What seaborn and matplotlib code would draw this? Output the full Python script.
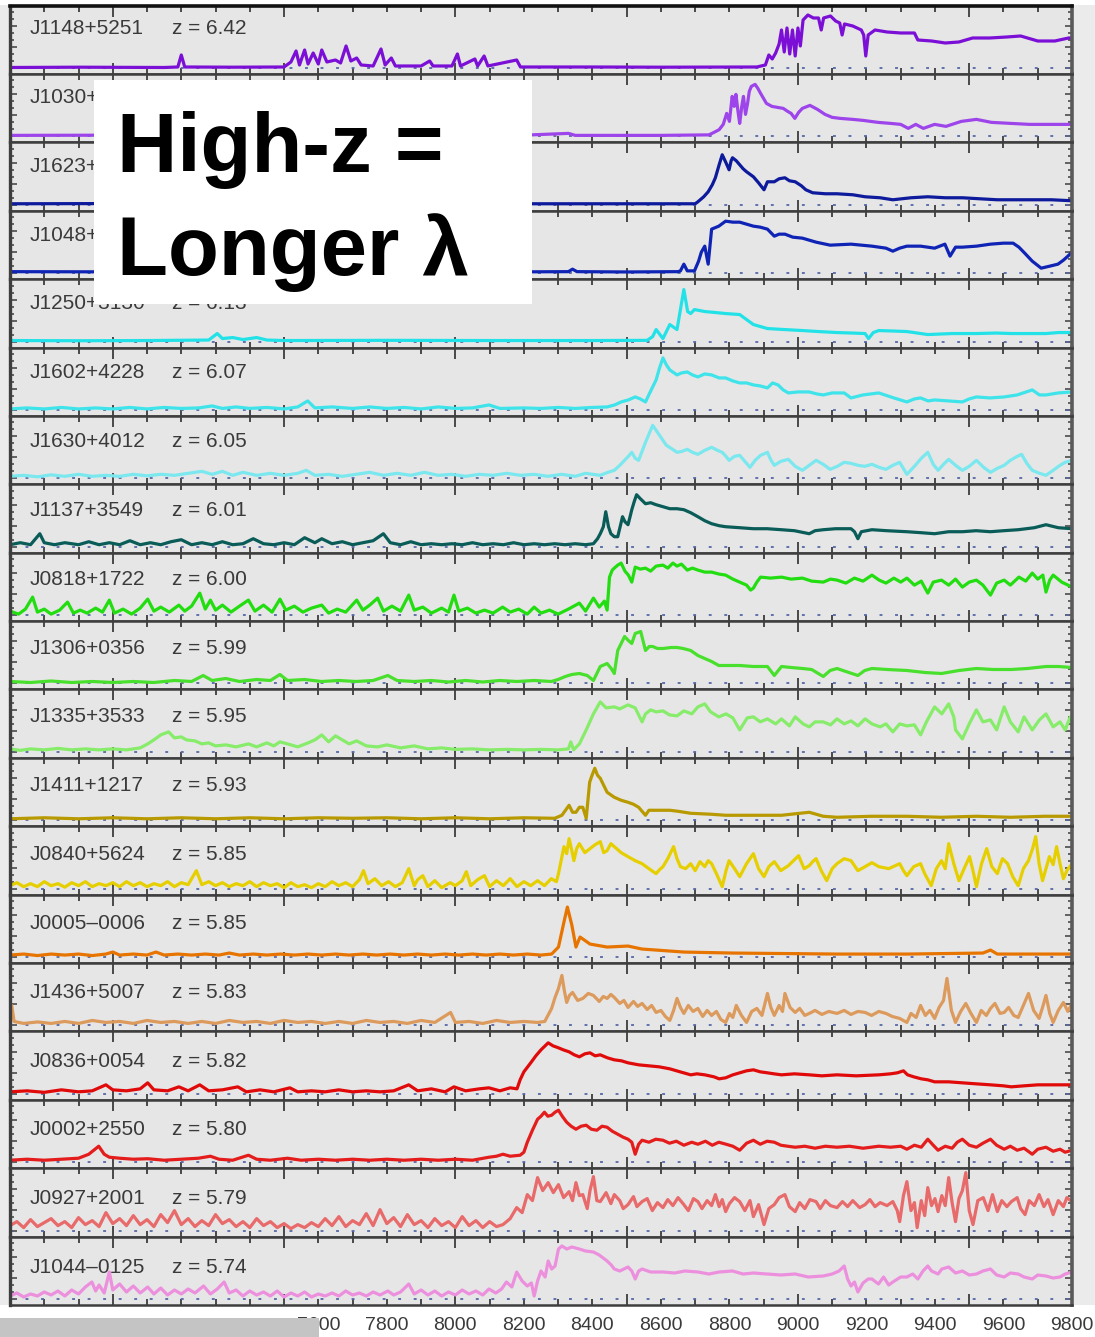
import matplotlib
matplotlib.use("Agg")
import matplotlib.pyplot as plt
from matplotlib.patches import Rectangle
from matplotlib.ticker import MultipleLocator
import pandas as pd
import seaborn as sns

# ---------------------------------------------------------------------------
# Quasar identifiers, redshifts and line colours (top panel first)
# ---------------------------------------------------------------------------
QUASARS = ["J1148+5251", "J1030+0524", "J1623+3112", "J1048+4637", "J1250+3130",
           "J1602+4228", "J1630+4012", "J1137+3549", "J0818+1722", "J1306+0356",
           "J1335+3533", "J1411+1217", "J0840+5624", "J0005\u20130006", "J1436+5007",
           "J0836+0054", "J0002+2550", "J0927+2001", "J1044\u20130125"]
REDSHIFTS = ["6.42", "6.28", "6.22", "6.20", "6.13", "6.07", "6.05", "6.01", "6.00",
             "5.99", "5.95", "5.93", "5.85", "5.85", "5.83", "5.82", "5.80", "5.79", "5.74"]
COLORS = ["#7b0fd6", "#9d45ea", "#0d1a9c", "#0f23b5", "#22e2e8", "#3fe3ea", "#7ae8ee",
          "#0a5c58", "#22dd10", "#48e02c", "#86ec6a", "#b89a00", "#e6cf00", "#e87400",
          "#dc9a5c", "#e00a0a", "#e41c1c", "#e86a6a", "#ec90de"]

# Bottom axis labels (Angstrom)
WAVE_LABELS = [7600, 7800, 8000, 8200, 8400, 8600, 8800, 9000, 9200, 9400, 9600, 9800]

# ---------------------------------------------------------------------------
# Spectra: (observed wavelength [A], relative flux) pairs
# ---------------------------------------------------------------------------
SPEC_J1148 = [(6700, 0.5), (6900, 0.8), (7150, 0.5), (7190, 1), (7200, 13), (7210, 1), (7350, 0.8),
              (7500, 1), (7520, 6), (7535, 17), (7545, 3), (7560, 18), (7570, 4), (7585, 15), (7600, 4),
              (7610, 18), (7625, 6), (7650, 8), (7665, 5), (7681, 22), (7695, 7), (7712, 10), (7725, 3),
              (7760, 2), (7783, 19), (7795, 3), (7813, 10), (7825, 2), (7900, 2), (7925, 7), (7935, 2),
              (7990, 2), (8006, 14), (8015, 2), (8057, 9), (8065, 2), (8084, 12), (8095, 2), (8179, 8),
              (8190, 1), (8400, 1), (8600, 0.8), (8880, 1), (8905, 3), (8915, 13), (8925, 9), (8935, 15),
              (8945, 24), (8952, 38), (8960, 16), (8968, 40), (8976, 14), (8984, 38), (8992, 12),
              (9000, 40), (9007, 22), (9015, 48), (9029, 53), (9045, 50), (9060, 50), (9068, 38),
              (9075, 50), (9095, 52), (9110, 47), (9122, 45), (9129, 33), (9136, 44), (9160, 42),
              (9185, 38), (9192, 33), (9198, 12), (9205, 33), (9225, 38), (9260, 36), (9300, 35),
              (9340, 35), (9350, 28), (9390, 27), (9430, 25), (9470, 26), (9510, 30), (9560, 30),
              (9610, 31), (9650, 32), (9700, 27), (9750, 27), (9790, 30), (9800, 30)]

SPEC_J1030 = [(6700, 1), (7000, 1.2), (7300, 1), (7600, 1.3), (7900, 1), (8200, 1.2), (8330, 3), (8350, 1),
              (8600, 1), (8740, 1.5), (8755, 4), (8770, 6.7), (8782, 12), (8792, 23), (8800, 15), (8808, 40),
              (8814, 30), (8819, 42), (8825, 25), (8830, 13), (8836, 30), (8841, 40), (8847, 22), (8853, 33),
              (8858, 45), (8864, 50), (8875, 52), (8883, 48), (8891, 43), (8908, 33), (8924, 30), (8940, 29),
              (8957, 28), (8970, 25), (8980, 23), (8991, 18), (9002, 24), (9013, 28), (9035, 31), (9057, 27),
              (9079, 22), (9100, 19), (9123, 18), (9160, 17), (9190, 16), (9234, 14), (9270, 13), (9300, 12),
              (9322, 8), (9344, 12), (9366, 8), (9399, 12), (9432, 10), (9477, 15), (9521, 17), (9565, 14),
              (9620, 13), (9676, 12), (9730, 12), (9786, 12), (9800, 12)]

SPEC_J1623 = [(6700, 1), (7000, 1.2), (7400, 0.8), (7800, 1), (8200, 1), (8500, 1), (8700, 1), (8708, 3),
              (8725, 8), (8738, 13), (8750, 20), (8759, 27), (8770, 40), (8779, 50), (8790, 42), (8799, 35),
              (8805, 44), (8809, 47), (8820, 44), (8830, 40), (8840, 36), (8850, 33), (8870, 28), (8885, 22),
              (8901, 15), (8911, 23), (8931, 23), (8945, 26), (8962, 27), (8975, 24), (8992, 23), (9010, 19),
              (9023, 15), (9043, 12), (9080, 11), (9114, 11), (9160, 10), (9196, 8), (9240, 7), (9277, 5),
              (9330, 7), (9379, 8), (9430, 7), (9480, 7), (9530, 6), (9582, 5), (9640, 5), (9684, 5),
              (9740, 5), (9800, 4)]

SPEC_J1048 = [(6700, 1.5), (7000, 1.3), (7400, 1.5), (7800, 1.2), (8200, 1.3), (8330, 1.5), (8342, 4),
              (8355, 1.5), (8500, 1.2), (8650, 1.5), (8657, 2.3), (8667, 9), (8677, 2.3), (8698, 2.3),
              (8710, 12), (8718, 21), (8728, 27), (8738, 9), (8748, 44), (8769, 47), (8789, 52), (8810, 51),
              (8830, 51), (8850, 49), (8870, 47), (8890, 46), (8911, 44), (8931, 37), (8945, 39), (8962, 39),
              (8985, 36), (9013, 35), (9053, 31), (9094, 28), (9155, 29), (9216, 27), (9257, 25), (9277, 22),
              (9297, 25), (9318, 27), (9358, 27), (9399, 25), (9429, 29), (9444, 17), (9460, 26), (9480, 26),
              (9521, 27), (9562, 29), (9600, 30), (9628, 30), (9645, 26), (9662, 20), (9684, 12), (9710, 5),
              (9735, 7), (9759, 9), (9775, 13), (9788, 17), (9800, 21)]

SPEC_J1250 = [(6700, 1), (6900, 0.8), (7100, 1), (7280, 1.5), (7305, 8), (7320, 3), (7350, 4), (7380, 2),
              (7420, 4), (7450, 1.5), (7500, 1), (7800, 1.2), (8100, 1), (8400, 1), (8560, 1.2), (8576, 5),
              (8586, 12), (8606, 3), (8626, 17), (8647, 12), (8657, 32), (8667, 52), (8678, 30), (8687, 28),
              (8698, 32), (8728, 30), (8760, 29), (8789, 28), (8830, 27), (8850, 22), (8870, 17), (8911, 13),
              (8960, 12), (9013, 11), (9060, 10), (9114, 9), (9160, 8.5), (9196, 8), (9206, 3), (9220, 9),
              (9236, 11), (9280, 10.5), (9318, 10), (9379, 7), (9450, 8), (9521, 8), (9580, 8.5), (9623, 8),
              (9680, 8), (9724, 8), (9760, 9), (9800, 9)]

SPEC_J1602 = [(6700, 1), (6750, 2), (6800, 1), (6850, 2.5), (6900, 1), (6950, 2), (7000, 1), (7050, 2.5),
              (7100, 1), (7150, 2.5), (7200, 1.5), (7250, 2), (7290, 4), (7320, 1.5), (7360, 3), (7400, 1.5),
              (7450, 2.5), (7500, 1), (7540, 3), (7569, 9), (7590, 2), (7640, 3), (7700, 1.5), (7750, 3),
              (7800, 1.5), (7850, 2.5), (7900, 1), (7950, 3), (8000, 1.5), (8050, 2), (8098, 5), (8130, 1.5),
              (8200, 2), (8250, 1.5), (8300, 2.5), (8350, 1.5), (8400, 2.5), (8443, 3), (8465, 5), (8484, 8),
              (8505, 10), (8525, 13), (8540, 11), (8555, 8), (8566, 16), (8576, 23), (8586, 30), (8596, 42),
              (8606, 52), (8616, 45), (8626, 40), (8647, 35), (8660, 37), (8677, 38), (8692, 35), (8708, 33),
              (8728, 36), (8748, 35), (8770, 32), (8789, 32), (8810, 29), (8830, 27), (8850, 27), (8870, 25),
              (8890, 24), (8911, 22), (8926, 27), (8942, 25), (8957, 20), (8972, 17), (9000, 18), (9033, 18),
              (9055, 16), (9074, 15), (9100, 17), (9135, 17), (9155, 12), (9190, 15), (9236, 17), (9280, 12),
              (9318, 8), (9340, 11), (9358, 12), (9380, 9), (9399, 10), (9440, 9), (9480, 8), (9500, 11),
              (9521, 13), (9560, 12), (9602, 13), (9640, 15), (9684, 20), (9705, 15), (9724, 15), (9760, 17),
              (9800, 18)]

SPEC_J1630 = [(6700, 2), (6740, 3), (6780, 1.5), (6820, 3.5), (6860, 2), (6900, 4), (6940, 2), (6980, 3),
              (7020, 2), (7060, 4), (7100, 2.5), (7140, 4), (7180, 3), (7220, 5), (7260, 7), (7290, 4),
              (7320, 7), (7350, 3), (7380, 6), (7420, 3), (7460, 5), (7500, 3), (7540, 5), (7565, 8),
              (7590, 3), (7630, 4), (7670, 2), (7710, 4), (7750, 6), (7790, 3), (7830, 5), (7870, 3),
              (7910, 6), (7950, 3), (7990, 4), (8030, 2), (8070, 4), (8110, 3), (8150, 5), (8190, 3),
              (8230, 4), (8270, 2), (8310, 4), (8350, 2), (8380, 5), (8423, 3), (8445, 6), (8464, 8),
              (8480, 13), (8494, 18), (8505, 22), (8515, 26), (8525, 20), (8535, 18), (8545, 27), (8555, 36),
              (8566, 45), (8576, 53), (8586, 48), (8596, 43), (8606, 38), (8616, 33), (8630, 30), (8647, 26),
              (8662, 27), (8677, 29), (8692, 26), (8708, 24), (8728, 28), (8748, 31), (8765, 28), (8779, 26),
              (8790, 22), (8799, 18), (8815, 22), (8830, 23), (8845, 17), (8860, 11), (8875, 18), (8891, 23),
              (8911, 26), (8920, 19), (8931, 13), (8950, 17), (8972, 19), (8992, 12), (9013, 8), (9033, 13),
              (9053, 18), (9074, 14), (9094, 9), (9115, 12), (9135, 16), (9155, 15), (9175, 13), (9195, 12),
              (9216, 14), (9237, 11), (9257, 9), (9277, 13), (9297, 16), (9318, 4), (9340, 12), (9360, 20),
              (9379, 26), (9395, 14), (9409, 8), (9425, 14), (9440, 19), (9460, 13), (9480, 8), (9500, 12),
              (9521, 18), (9542, 11), (9562, 6), (9582, 10), (9602, 13), (9620, 18), (9640, 22), (9653, 24),
              (9668, 15), (9684, 8), (9705, 5), (9724, 3), (9745, 8), (9765, 13), (9780, 16), (9800, 18)]

SPEC_J1137 = [(6700, 2), (6730, 4), (6760, 2), (6787, 13), (6800, 4), (6830, 2), (6860, 4), (6900, 2),
              (6930, 5), (6960, 2), (6990, 4), (7020, 2), (7050, 6), (7080, 2), (7110, 4), (7140, 2),
              (7170, 5), (7200, 7), (7230, 2), (7260, 4), (7290, 2), (7320, 5), (7350, 2), (7380, 3),
              (7410, 8), (7440, 3), (7470, 2), (7500, 4), (7530, 2), (7560, 9), (7590, 4), (7610, 8),
              (7640, 3), (7670, 5), (7700, 2), (7730, 4), (7760, 6), (7790, 13), (7810, 4), (7840, 2),
              (7870, 5), (7900, 2), (7930, 3), (7960, 2), (7990, 3), (8020, 2), (8050, 4), (8080, 2),
              (8110, 3), (8140, 2), (8170, 4), (8200, 2), (8230, 3), (8260, 2), (8290, 3), (8320, 2),
              (8350, 3), (8380, 2), (8403, 3), (8415, 8), (8423, 13), (8432, 20), (8439, 35), (8447, 20),
              (8454, 13), (8464, 10), (8474, 10), (8481, 20), (8488, 30), (8495, 25), (8504, 22), (8510, 30),
              (8515, 37), (8522, 45), (8529, 52), (8540, 48), (8555, 43), (8570, 44), (8586, 42), (8606, 40),
              (8626, 38), (8647, 38), (8667, 37), (8687, 34), (8708, 30), (8728, 26), (8748, 23), (8770, 21),
              (8789, 20), (8830, 19), (8870, 18), (8910, 18), (8952, 17), (8990, 16), (9033, 13), (9050, 16),
              (9074, 17), (9110, 18), (9155, 18), (9165, 15), (9175, 8), (9185, 15), (9216, 17), (9260, 16),
              (9318, 15), (9360, 14), (9399, 13), (9440, 15), (9480, 15), (9520, 16), (9562, 15), (9600, 16),
              (9643, 17), (9690, 19), (9724, 22), (9760, 19), (9800, 18)]

SPEC_J0818 = [(6700, 4), (6725, 1), (6745, 6), (6766, 18), (6780, 3), (6800, 6), (6820, 1), (6845, 5),
              (6868, 13), (6885, 2), (6905, 5), (6925, 2), (6950, 7), (6970, 3), (6990, 15), (7005, 2),
              (7030, 6), (7055, 1), (7080, 7), (7102, 16), (7120, 4), (7140, 8), (7165, 3), (7193, 10),
              (7210, 4), (7230, 9), (7254, 22), (7270, 6), (7285, 15), (7300, 5), (7320, 10), (7345, 3),
              (7370, 9), (7396, 15), (7415, 4), (7440, 10), (7465, 3), (7488, 16), (7505, 5), (7530, 9),
              (7555, 3), (7580, 7), (7610, 10), (7630, 2), (7655, 6), (7680, 3), (7712, 15), (7730, 5),
              (7750, 10), (7773, 17), (7790, 4), (7815, 9), (7840, 4), (7864, 20), (7880, 5), (7905, 8),
              (7930, 2), (7960, 7), (7980, 3), (7996, 20), (8010, 4), (8035, 7), (8060, 2), (8085, 5),
              (8110, 2), (8138, 8), (8160, 3), (8185, 6), (8210, 1), (8230, 8), (8250, 2), (8275, 5),
              (8300, 1), (8330, 6), (8362, 12), (8380, 4), (8403, 17), (8420, 8), (8435, 14), (8443, 5),
              (8450, 38), (8458, 45), (8464, 47), (8474, 50), (8484, 52), (8495, 44), (8505, 40), (8515, 33),
              (8525, 48), (8540, 46), (8555, 47), (8570, 44), (8586, 49), (8606, 50), (8620, 47), (8635, 52),
              (8647, 49), (8660, 51), (8677, 45), (8692, 47), (8708, 45), (8728, 43), (8748, 43), (8770, 41),
              (8789, 40), (8810, 36), (8830, 33), (8850, 30), (8862, 25), (8870, 27), (8880, 33), (8891, 38),
              (8920, 37), (8952, 38), (8980, 36), (9013, 37), (9040, 34), (9074, 33), (9095, 36), (9114, 35),
              (9140, 32), (9165, 37), (9190, 34), (9216, 40), (9237, 35), (9257, 32), (9280, 37), (9300, 33),
              (9318, 37), (9340, 30), (9360, 34), (9379, 22), (9395, 33), (9419, 35), (9440, 30), (9460, 36),
              (9480, 28), (9500, 33), (9521, 35), (9540, 30), (9562, 20), (9580, 32), (9602, 35), (9620, 30),
              (9645, 38), (9665, 34), (9684, 42), (9700, 36), (9715, 40), (9724, 23), (9735, 35), (9745, 40),
              (9770, 33), (9800, 28)]

SPEC_J1306 = [(6700, 2), (6760, 1), (6820, 2.5), (6880, 1), (6940, 2), (7000, 1), (7060, 2), (7120, 1),
              (7180, 3), (7230, 2), (7264, 8), (7290, 3), (7330, 5), (7370, 2), (7420, 4), (7460, 3),
              (7488, 9), (7510, 3), (7560, 4), (7610, 2), (7660, 3), (7710, 2), (7760, 3), (7803, 8),
              (7830, 3), (7880, 2), (7930, 3), (7980, 1.5), (8030, 3), (8080, 1.5), (8130, 3), (8180, 2),
              (8230, 3), (8280, 2), (8300, 4), (8321, 7), (8340, 9), (8362, 10), (8385, 8), (8403, 3),
              (8423, 17), (8443, 20), (8455, 15), (8464, 10), (8474, 33), (8484, 40), (8494, 47), (8505, 43),
              (8515, 40), (8525, 50), (8541, 52), (8555, 33), (8566, 37), (8576, 37), (8590, 35), (8606, 35),
              (8630, 36), (8647, 36), (8665, 35), (8687, 33), (8708, 28), (8728, 25), (8748, 22), (8769, 18),
              (8800, 18), (8830, 18), (8870, 17), (8911, 17), (8931, 8), (8952, 17), (8980, 16), (9013, 15),
              (9040, 14), (9074, 7), (9094, 13), (9114, 15), (9140, 12), (9175, 8), (9195, 13), (9216, 15),
              (9260, 14), (9318, 13), (9370, 11), (9419, 10), (9470, 13), (9521, 15), (9570, 14), (9623, 14),
              (9670, 15), (9724, 17), (9760, 17), (9800, 16)]

SPEC_J1335 = [(6700, 3), (6730, 1.5), (6760, 3), (6800, 2), (6840, 3.5), (6880, 2), (6920, 3), (6960, 2),
              (7000, 3), (7040, 2), (7080, 4), (7102, 8), (7120, 12), (7140, 17), (7163, 20), (7180, 14),
              (7200, 15), (7215, 12), (7240, 11), (7260, 8), (7280, 9), (7300, 6), (7330, 7), (7360, 5),
              (7396, 8), (7420, 5), (7450, 9), (7470, 6), (7488, 10), (7510, 8), (7540, 5), (7570, 9),
              (7590, 12), (7610, 17), (7630, 10), (7650, 16), (7670, 12), (7690, 8), (7712, 11), (7740, 6),
              (7773, 5), (7800, 7), (7840, 4), (7880, 6), (7920, 3), (7960, 4), (8000, 2.5), (8050, 3),
              (8100, 2), (8150, 2.5), (8200, 2), (8250, 2.5), (8300, 2), (8330, 3), (8337, 10), (8345, 2),
              (8362, 8), (8382, 22), (8403, 38), (8423, 50), (8440, 44), (8464, 45), (8480, 43), (8504, 47),
              (8525, 44), (8545, 30), (8555, 38), (8570, 42), (8586, 40), (8606, 41), (8625, 37), (8647, 36),
              (8667, 41), (8690, 38), (8708, 45), (8728, 48), (8745, 40), (8769, 35), (8790, 38), (8810, 34),
              (8830, 22), (8852, 34), (8870, 35), (8890, 30), (8911, 33), (8935, 28), (8952, 33), (8975, 26),
              (8992, 35), (9015, 28), (9033, 25), (9050, 30), (9074, 30), (9095, 27), (9114, 33), (9135, 28),
              (9155, 31), (9175, 26), (9196, 33), (9216, 28), (9240, 25), (9257, 28), (9277, 20), (9297, 28),
              (9318, 26), (9340, 27), (9358, 17), (9375, 30), (9399, 45), (9420, 38), (9440, 48), (9455, 35),
              (9460, 22), (9480, 13), (9500, 28), (9521, 42), (9540, 30), (9562, 32), (9580, 22), (9602, 45),
              (9620, 30), (9643, 20), (9660, 35), (9684, 22), (9705, 32), (9724, 38), (9745, 25), (9765, 30),
              (9780, 22), (9795, 35), (9800, 30)]

SPEC_J1411 = [(6700, 1.5), (6800, 2.5), (6900, 1.5), (7000, 2.5), (7100, 1.5), (7200, 2.5), (7300, 1.5),
              (7400, 2.5), (7500, 1.5), (7600, 2.5), (7700, 2), (7800, 2.5), (7900, 1.5), (8000, 2.5),
              (8100, 1.5), (8200, 2.5), (8290, 2), (8311, 5), (8332, 15), (8342, 8), (8352, 8), (8362, 13),
              (8372, 13), (8382, 2), (8392, 38), (8399, 45), (8407, 52), (8415, 45), (8423, 42), (8443, 28),
              (8464, 23), (8484, 20), (8504, 18), (8520, 16), (8535, 13), (8555, 5), (8565, 10), (8576, 10),
              (8600, 10), (8626, 10), (8650, 9), (8687, 7), (8748, 6), (8789, 5), (8870, 5), (8952, 5),
              (9033, 8), (9074, 4), (9114, 3), (9216, 4), (9318, 4), (9419, 3), (9521, 4), (9620, 3),
              (9720, 4), (9800, 4)]

SPEC_J0840 = [(6700, 3), (6720, 6), (6740, 2), (6760, 5), (6780, 2), (6800, 7), (6820, 3), (6840, 5),
              (6860, 1.5), (6880, 6), (6900, 3), (6920, 7), (6940, 2), (6960, 5), (6980, 3), (7000, 6),
              (7020, 2), (7040, 7), (7060, 3), (7080, 6), (7100, 2), (7120, 5), (7140, 3), (7160, 7),
              (7180, 2), (7200, 6), (7220, 4), (7244, 18), (7260, 4), (7280, 7), (7300, 3), (7320, 6),
              (7340, 2), (7360, 5), (7380, 3), (7400, 7), (7420, 2), (7440, 6), (7460, 3), (7480, 5),
              (7500, 1), (7520, 6), (7540, 2), (7560, 4), (7580, 1), (7600, 5), (7620, 2), (7640, 7),
              (7660, 3), (7680, 6), (7700, 2), (7720, 9), (7732, 18), (7745, 5), (7765, 10), (7785, 3),
              (7805, 7), (7825, 2), (7845, 6), (7864, 20), (7880, 3), (7890, 9), (7905, 13), (7920, 2),
              (7940, 8), (7960, 1), (7985, 6), (8000, 3), (8020, 8), (8032, 17), (8045, 3), (8065, 9),
              (8085, 13), (8100, 2), (8120, 8), (8140, 3), (8160, 10), (8180, 2), (8200, 7), (8220, 3),
              (8240, 8), (8260, 3), (8280, 10), (8295, 7), (8301, 15), (8317, 42), (8325, 35), (8332, 50),
              (8340, 38), (8346, 28), (8354, 40), (8362, 45), (8378, 36), (8393, 40), (8408, 44), (8423, 47),
              (8433, 36), (8443, 38), (8454, 45), (8464, 42), (8484, 36), (8504, 32), (8525, 28), (8545, 25),
              (8565, 20), (8586, 15), (8596, 19), (8606, 22), (8620, 30), (8637, 42), (8647, 30), (8657, 22),
              (8672, 20), (8687, 25), (8700, 18), (8714, 27), (8728, 22), (8738, 28), (8748, 25), (8762, 15),
              (8779, 2), (8790, 18), (8799, 28), (8815, 20), (8830, 12), (8850, 25), (8870, 35), (8885, 20),
              (8901, 12), (8915, 22), (8931, 27), (8950, 18), (8972, 23), (8987, 28), (9002, 33), (9018, 20),
              (9033, 23), (9043, 27), (9053, 30), (9068, 18), (9084, 8), (9100, 20), (9114, 25), (9135, 30),
              (9155, 28), (9175, 18), (9196, 22), (9216, 26), (9236, 22), (9265, 20), (9297, 25), (9308, 18),
              (9318, 13), (9338, 22), (9358, 25), (9370, 15), (9389, 3), (9404, 20), (9419, 28), (9430, 20),
              (9440, 45), (9455, 25), (9470, 8), (9485, 20), (9501, 32), (9511, 18), (9521, 2), (9536, 25),
              (9551, 40), (9566, 22), (9582, 15), (9597, 30), (9612, 25), (9627, 12), (9643, 3), (9658, 20),
              (9673, 28), (9685, 40), (9694, 52), (9704, 25), (9714, 8), (9724, 20), (9734, 32), (9745, 24),
              (9755, 42), (9765, 25), (9775, 10), (9785, 18), (9800, 25)]

SPEC_J0005 = [(6700, 2), (6740, 3), (6780, 1.5), (6820, 3), (6860, 2), (6900, 3), (6940, 1.5), (6980, 3),
              (7000, 5), (7020, 2), (7060, 3), (7100, 2), (7126, 5), (7150, 2), (7190, 3), (7230, 2),
              (7270, 3), (7310, 2), (7340, 4), (7370, 2), (7410, 3), (7450, 2), (7490, 3), (7530, 2),
              (7570, 3), (7610, 2), (7650, 3), (7690, 2), (7730, 3), (7770, 2), (7810, 3), (7850, 2),
              (7890, 3), (7930, 2), (7970, 3), (8010, 2), (8050, 3), (8090, 2), (8130, 3), (8170, 2),
              (8210, 3), (8250, 2), (8281, 3), (8301, 10), (8317, 35), (8327, 50), (8340, 32), (8352, 10),
              (8364, 20), (8393, 13), (8443, 10), (8504, 11), (8545, 8), (8586, 7), (8667, 5), (8810, 4),
              (9114, 3), (9318, 3), (9540, 4), (9562, 7), (9582, 3), (9800, 3)]

SPEC_J1436 = [(6700, 3), (6705, 20), (6712, 4), (6740, 2), (6780, 3.5), (6820, 2), (6860, 4), (6900, 2),
              (6940, 5), (6980, 3), (7020, 4), (7060, 2), (7100, 5), (7140, 3), (7180, 4), (7220, 2),
              (7260, 4), (7300, 2), (7340, 5), (7380, 3), (7420, 4), (7460, 2), (7500, 5), (7540, 3),
              (7580, 4), (7620, 2), (7660, 4), (7700, 2), (7740, 5), (7780, 3), (7820, 4), (7860, 2),
              (7900, 5), (7940, 3), (7986, 13), (8000, 3), (8040, 4), (8080, 2), (8120, 5), (8160, 3),
              (8200, 4), (8240, 3), (8261, 4), (8281, 17), (8291, 28), (8301, 37), (8311, 50), (8318, 35),
              (8325, 23), (8333, 30), (8342, 33), (8357, 25), (8372, 27), (8388, 32), (8403, 30), (8420, 24),
              (8432, 29), (8443, 27), (8454, 31), (8464, 28), (8480, 22), (8492, 25), (8504, 18), (8520, 24),
              (8532, 19), (8545, 22), (8560, 16), (8573, 20), (8586, 13), (8600, 15), (8613, 9), (8626, 5),
              (8637, 15), (8647, 27), (8657, 18), (8667, 12), (8680, 20), (8694, 14), (8708, 17), (8722, 9),
              (8735, 15), (8748, 10), (8762, 14), (8775, 6), (8789, 3), (8800, 12), (8810, 8), (8820, 20),
              (8835, 10), (8850, 3), (8865, 14), (8880, 17), (8895, 10), (8911, 32), (8921, 18), (8931, 10),
              (8945, 20), (8955, 14), (8962, 32), (8977, 18), (8992, 13), (9005, 17), (9020, 10), (9033, 12),
              (9050, 15), (9070, 11), (9090, 14), (9114, 12), (9135, 15), (9155, 11), (9175, 14), (9196, 13),
              (9215, 10), (9236, 14), (9257, 12), (9275, 9), (9297, 7), (9318, 3), (9330, 12), (9345, 8),
              (9358, 20), (9372, 10), (9385, 15), (9399, 7), (9412, 18), (9425, 25), (9435, 47), (9448, 15),
              (9460, 3), (9475, 14), (9490, 22), (9505, 12), (9521, 3), (9535, 15), (9550, 10), (9562, 17),
              (9575, 22), (9590, 12), (9602, 13), (9615, 18), (9630, 10), (9643, 8), (9658, 20), (9673, 32),
              (9688, 15), (9704, 7), (9714, 18), (9724, 30), (9735, 12), (9745, 3), (9760, 15), (9775, 23),
              (9788, 14), (9800, 22)]

SPEC_J0836 = [(6700, 2), (6750, 3), (6800, 1.5), (6850, 4), (6900, 2), (6940, 3), (6980, 9), (7000, 4),
              (7040, 3), (7080, 5), (7102, 11), (7120, 4), (7160, 3), (7193, 7), (7220, 3), (7254, 9),
              (7280, 3), (7320, 4), (7365, 7), (7390, 2), (7430, 4), (7470, 2), (7517, 6), (7540, 2),
              (7580, 3), (7620, 2), (7660, 4), (7700, 2), (7740, 3), (7780, 2), (7820, 3), (7864, 9),
              (7890, 3), (7930, 5), (7970, 2), (7996, 7), (8030, 3), (8070, 5), (8098, 6), (8130, 3),
              (8160, 6), (8180, 5), (8189, 14), (8200, 22), (8220, 31), (8235, 38), (8250, 44), (8262, 48),
              (8271, 51), (8285, 48), (8301, 46), (8315, 44), (8332, 42), (8347, 39), (8362, 37), (8378, 40),
              (8393, 41), (8408, 38), (8423, 39), (8444, 36), (8464, 34), (8485, 33), (8504, 31), (8535, 29),
              (8565, 28), (8595, 27), (8626, 25), (8656, 22), (8687, 19), (8705, 20), (8728, 19), (8755, 17),
              (8770, 15), (8789, 16), (8810, 19), (8830, 21), (8850, 23), (8870, 24), (8890, 22), (8911, 21),
              (8930, 20), (8952, 19), (8990, 20), (9033, 19), (9070, 18), (9114, 19), (9170, 18), (9236, 19),
              (9270, 20), (9290, 21), (9308, 23), (9320, 19), (9338, 17), (9360, 15), (9379, 14), (9399, 12),
              (9440, 12), (9480, 11), (9520, 10), (9562, 9), (9600, 8), (9623, 7), (9660, 8), (9700, 9),
              (9760, 9), (9800, 9)]

SPEC_J0002 = [(6700, 2), (6750, 3), (6800, 2), (6850, 3), (6900, 4), (6930, 8), (6959, 16), (6975, 8),
              (6990, 5), (7020, 4), (7060, 3), (7102, 3.5), (7150, 2), (7200, 3), (7250, 4), (7285, 6),
              (7310, 3), (7350, 2), (7396, 7), (7420, 3), (7460, 2), (7510, 4), (7550, 2), (7600, 3),
              (7650, 2), (7700, 3), (7750, 2), (7800, 3), (7850, 2), (7900, 3), (7950, 2), (8000, 3),
              (8050, 2), (8098, 5), (8120, 6), (8139, 8), (8160, 6), (8189, 7), (8200, 10), (8210, 20),
              (8225, 32), (8240, 43), (8250, 46), (8260, 50), (8270, 46), (8281, 47), (8291, 50), (8301, 52),
              (8312, 46), (8325, 40), (8338, 36), (8352, 33), (8367, 36), (8382, 37), (8397, 33), (8413, 32),
              (8428, 36), (8443, 35), (8458, 31), (8474, 28), (8490, 25), (8504, 23), (8515, 20), (8525, 8),
              (8535, 18), (8545, 22), (8565, 20), (8585, 23), (8606, 22), (8625, 19), (8645, 21), (8667, 17),
              (8690, 20), (8708, 18), (8730, 21), (8750, 17), (8769, 20), (8790, 18), (8810, 16), (8830, 12),
              (8850, 19), (8870, 22), (8890, 18), (8910, 21), (8931, 20), (8950, 17), (8970, 16), (8992, 15),
              (9020, 16), (9050, 14), (9080, 16), (9114, 15), (9150, 16), (9190, 14), (9236, 16), (9270, 15),
              (9300, 16), (9318, 13), (9340, 17), (9360, 15), (9379, 23), (9395, 17), (9409, 12), (9430, 16),
              (9450, 14), (9465, 20), (9480, 23), (9500, 17), (9521, 15), (9540, 19), (9562, 23), (9580, 17),
              (9602, 13), (9620, 16), (9640, 12), (9660, 14), (9684, 8), (9700, 13), (9724, 15), (9745, 11),
              (9765, 13), (9780, 10), (9800, 12)]

SPEC_J0927 = [(6700, 5), (6720, 9), (6740, 3), (6760, 11), (6780, 4), (6800, 8), (6820, 12), (6840, 5),
              (6860, 9), (6880, 3), (6900, 13), (6920, 6), (6940, 10), (6960, 4), (6980, 18), (7000, 7),
              (7020, 12), (7040, 5), (7060, 15), (7080, 6), (7100, 11), (7120, 4), (7140, 16), (7160, 8),
              (7180, 20), (7200, 6), (7220, 12), (7240, 4), (7260, 10), (7280, 5), (7300, 16), (7320, 7),
              (7340, 11), (7360, 4), (7380, 9), (7400, 3), (7420, 12), (7440, 5), (7460, 9), (7480, 3),
              (7500, 7), (7520, 2), (7540, 6), (7560, 3), (7580, 8), (7600, 4), (7620, 12), (7640, 5),
              (7660, 14), (7680, 4), (7700, 10), (7720, 6), (7740, 17), (7760, 5), (7780, 21), (7800, 7),
              (7820, 13), (7840, 4), (7860, 16), (7880, 6), (7900, 10), (7920, 3), (7940, 12), (7960, 5),
              (7980, 9), (8000, 3), (8020, 14), (8040, 5), (8060, 10), (8080, 3), (8100, 9), (8120, 4),
              (8139, 6), (8160, 12), (8179, 23), (8195, 18), (8210, 36), (8225, 30), (8240, 53), (8255, 40),
              (8271, 48), (8286, 38), (8301, 46), (8316, 33), (8332, 39), (8342, 30), (8352, 48), (8362, 35),
              (8372, 36), (8385, 22), (8393, 40), (8403, 54), (8413, 30), (8423, 29), (8440, 38), (8454, 27),
              (8464, 36), (8480, 30), (8490, 22), (8504, 26), (8520, 34), (8530, 24), (8545, 29), (8560, 32),
              (8575, 20), (8590, 28), (8606, 23), (8620, 31), (8635, 25), (8650, 33), (8667, 26), (8680, 20),
              (8695, 32), (8708, 29), (8720, 22), (8735, 30), (8748, 25), (8759, 36), (8770, 24), (8779, 31),
              (8789, 19), (8800, 27), (8815, 33), (8830, 29), (8845, 20), (8860, 30), (8870, 14), (8885, 26),
              (8901, 6), (8915, 22), (8931, 26), (8945, 33), (8962, 36), (8975, 24), (8992, 19), (9005, 28),
              (9020, 22), (9035, 31), (9053, 29), (9065, 22), (9080, 30), (9095, 25), (9114, 23), (9130, 29),
              (9145, 24), (9160, 30), (9180, 23), (9196, 26), (9210, 31), (9225, 24), (9240, 28), (9260, 25),
              (9277, 29), (9290, 20), (9297, 9), (9308, 35), (9318, 49), (9330, 20), (9340, 28), (9348, 3),
              (9360, 30), (9370, 15), (9379, 43), (9390, 25), (9400, 32), (9409, 19), (9420, 35), (9430, 25),
              (9440, 53), (9450, 28), (9460, 9), (9470, 32), (9480, 40), (9490, 58), (9500, 20), (9511, 6),
              (9525, 30), (9541, 33), (9555, 20), (9568, 36), (9582, 19), (9595, 30), (9610, 24), (9623, 29),
              (9640, 33), (9650, 22), (9663, 16), (9675, 30), (9690, 25), (9704, 36), (9718, 24), (9730, 31),
              (9745, 16), (9760, 30), (9775, 24), (9785, 33), (9800, 29)]

SPEC_J1044 = [(6700, 3), (6720, 6), (6740, 2), (6760, 5), (6780, 3), (6800, 7), (6820, 4), (6840, 8),
              (6860, 3), (6880, 9), (6900, 5), (6920, 12), (6939, 17), (6950, 8), (6960, 14), (6975, 6),
              (6990, 27), (7000, 9), (7020, 15), (7040, 7), (7060, 13), (7080, 6), (7102, 12), (7120, 5),
              (7140, 11), (7160, 4), (7180, 9), (7200, 5), (7220, 10), (7240, 6), (7265, 13), (7285, 5),
              (7305, 10), (7325, 17), (7340, 6), (7360, 9), (7380, 3), (7400, 8), (7420, 4), (7440, 7),
              (7460, 3), (7480, 8), (7500, 2), (7520, 6), (7540, 3), (7560, 7), (7580, 2), (7600, 5),
              (7620, 3), (7640, 6), (7660, 3), (7680, 8), (7700, 4), (7720, 6), (7740, 3), (7760, 7),
              (7780, 4), (7803, 8), (7820, 4), (7840, 7), (7864, 15), (7880, 5), (7900, 9), (7920, 4),
              (7940, 8), (7960, 3), (7980, 7), (8000, 4), (8020, 9), (8040, 5), (8060, 8), (8080, 4),
              (8098, 10), (8118, 6), (8135, 10), (8149, 17), (8165, 12), (8179, 27), (8195, 18), (8210, 13),
              (8222, 16), (8230, 3), (8240, 18), (8250, 28), (8262, 22), (8271, 38), (8281, 30), (8291, 33),
              (8301, 50), (8311, 53), (8325, 50), (8340, 52), (8362, 50), (8380, 48), (8403, 47), (8420, 44),
              (8443, 38), (8455, 34), (8464, 30), (8480, 28), (8504, 32), (8515, 28), (8525, 20), (8535, 28),
              (8545, 30), (8570, 27), (8606, 27), (8640, 26), (8670, 28), (8708, 27), (8740, 25), (8770, 27),
              (8809, 28), (8840, 25), (8870, 26), (8911, 25), (8950, 24), (8992, 25), (9030, 22), (9074, 23),
              (9100, 25), (9120, 28), (9135, 33), (9145, 20), (9155, 13), (9165, 17), (9175, 7), (9190, 16),
              (9205, 20), (9216, 20), (9235, 15), (9250, 22), (9265, 14), (9277, 17), (9300, 22), (9318, 22),
              (9335, 25), (9350, 20), (9365, 28), (9379, 33), (9390, 28), (9409, 25), (9420, 30), (9440, 32),
              (9460, 26), (9480, 28), (9500, 24), (9521, 25), (9540, 28), (9562, 30), (9580, 24), (9602, 22),
              (9620, 26), (9643, 25), (9660, 22), (9684, 20), (9700, 24), (9724, 23), (9745, 21), (9765, 22),
              (9780, 25), (9800, 27)]

SPECTRA = [SPEC_J1148, SPEC_J1030, SPEC_J1623, SPEC_J1048, SPEC_J1250, SPEC_J1602, SPEC_J1630,
           SPEC_J1137, SPEC_J0818, SPEC_J1306, SPEC_J1335, SPEC_J1411, SPEC_J0840, SPEC_J0005,
           SPEC_J1436, SPEC_J0836, SPEC_J0002, SPEC_J0927, SPEC_J1044]

# ---------------------------------------------------------------------------
# Long-form table for seaborn
# ---------------------------------------------------------------------------
frames = []
for name, spec in zip(QUASARS, SPECTRA):
    wave, flux = zip(*spec)
    frames.append(pd.DataFrame({"quasar": name, "wave": wave, "flux": flux}))
spectra_df = pd.concat(frames, ignore_index=True)

sns.set_theme(style="white")
plt.rcParams["font.family"] = ["Liberation Sans", "DejaVu Sans"]

W, H = 1095, 1337
fig = plt.figure(figsize=(W / 100, H / 100), dpi=100, facecolor="#ebebeb")

# white strips above and below the stack of panels
fig.add_artist(Rectangle((0, 0), 1, (H - 1305) / H, transform=fig.transFigure,
                         facecolor="white", edgecolor="none", zorder=-2))
fig.add_artist(Rectangle((0, 1 - 5 / H), 1, 5 / H, transform=fig.transFigure,
                         facecolor="white", edgecolor="none", zorder=-2))

LEFT, RIGHT, TOP, BOTTOM = 10, 1072, 5.6, 1305
n_panels = len(QUASARS)
panel_h = (BOTTOM - TOP) / n_panels
ZERO_OFFSET = 6.0  # flux zero sits this far above the panel floor

# annotation box extent (pixels from the top-left corner)
BOX_L, BOX_R, BOX_T, BOX_B = 94, 532, 80, 304
outside_box = Rectangle((0, 0), BOX_L / W, 1, transform=fig.transFigure)

axes = []
for i, (name, z, color) in enumerate(zip(QUASARS, REDSHIFTS, COLORS)):
    top = TOP + i * panel_h
    ax = fig.add_axes([LEFT / W, 1 - (top + panel_h) / H, (RIGHT - LEFT) / W, panel_h / H])
    ax.set_facecolor("#e6e6e6")
    ax.axhline(0, color="#5567a6", lw=1.3, ls=(0, (1.6, 7)), zorder=1)
    sub = spectra_df[spectra_df["quasar"] == name]
    sns.lineplot(data=sub, x="wave", y="flux", ax=ax, color=color, lw=2.3,
                 estimator=None, sort=False, legend=False, zorder=2)
    ax.set_xlim(6700, 9800)
    ax.set_ylim(-ZERO_OFFSET, panel_h - ZERO_OFFSET)
    ax.set_xlabel("")
    ax.set_ylabel("")

    ax.xaxis.set_major_locator(MultipleLocator(500))
    ax.xaxis.set_minor_locator(MultipleLocator(100))
    ax.yaxis.set_major_locator(MultipleLocator(21))
    ax.yaxis.set_minor_locator(MultipleLocator(7))
    ax.tick_params(axis="x", which="both", direction="in", top=True, bottom=True,
                   labelbottom=False, labeltop=False, color="#3c3c3c", width=1.3)
    ax.tick_params(axis="x", which="major", length=8)
    ax.tick_params(axis="x", which="minor", length=4)
    ax.tick_params(axis="y", which="both", direction="in", left=True, right=True,
                   labelleft=False, labelright=False, color="#4a4a4a", width=1.2)
    ax.tick_params(axis="y", which="major", length=5)
    ax.tick_params(axis="y", which="minor", length=3)

    for side, sp in ax.spines.items():
        sp.set_color("#3e3e3e")
        sp.set_linewidth(1.8)
    ax.spines["left"].set_linewidth(2.4)
    ax.spines["right"].set_color("#5a5a5a")
    ax.spines["right"].set_linewidth(2.6)
    if i == 0:
        ax.spines["top"].set_color("#111111")
        ax.spines["top"].set_linewidth(2.6)

    # quasar name and redshift; labels lying behind the annotation box are
    # cut at its left edge (names) or left out entirely (redshifts)
    off = 23 + 8 * i / (n_panels - 1)
    y_px = top + off
    behind_box = BOX_T + 8 < y_px < BOX_B - 8
    ytxt = 1 - off / panel_h
    name_txt = ax.text((30 - LEFT) / (RIGHT - LEFT), ytxt, name, transform=ax.transAxes,
                       fontsize=15, color="#3a3a3a", va="center", ha="left")
    if behind_box:
        name_txt.set_clip_path(outside_box)
    else:
        ax.text((172 - LEFT) / (RIGHT - LEFT), ytxt, f"z = {z}", transform=ax.transAxes,
                fontsize=15, color="#3a3a3a", va="center", ha="left")
    axes.append(ax)

# wavelength labels under the last panel
last = axes[-1]
for w in WAVE_LABELS:
    last.text(w, -(1326 - BOTTOM) / panel_h, str(w), transform=last.get_xaxis_transform(),
              ha="center", va="center", fontsize=14, color="#3a3a3a", clip_on=False)

# grey bar over the lower-left corner
fig.add_artist(Rectangle((0, 0), 319 / W, (H - 1318) / H, transform=fig.transFigure,
                         facecolor="#c4c4c4", edgecolor="none", zorder=5))

# annotation box
fig.add_artist(Rectangle((BOX_L / W, 1 - BOX_B / H), (BOX_R - BOX_L) / W, (BOX_B - BOX_T) / H,
                         transform=fig.transFigure, facecolor="white", edgecolor="none", zorder=10))
fig.text(117 / W, 1 - 172 / H, "High-z =", fontsize=60, fontweight="bold", color="black",
         va="baseline", ha="left", zorder=11)
fig.text(117 / W, 1 - 275 / H, "Longer \u03bb", fontsize=60, fontweight="bold", color="black",
         va="baseline", ha="left", zorder=11)

fig.savefig("out.png", dpi=100, facecolor=fig.get_facecolor())
